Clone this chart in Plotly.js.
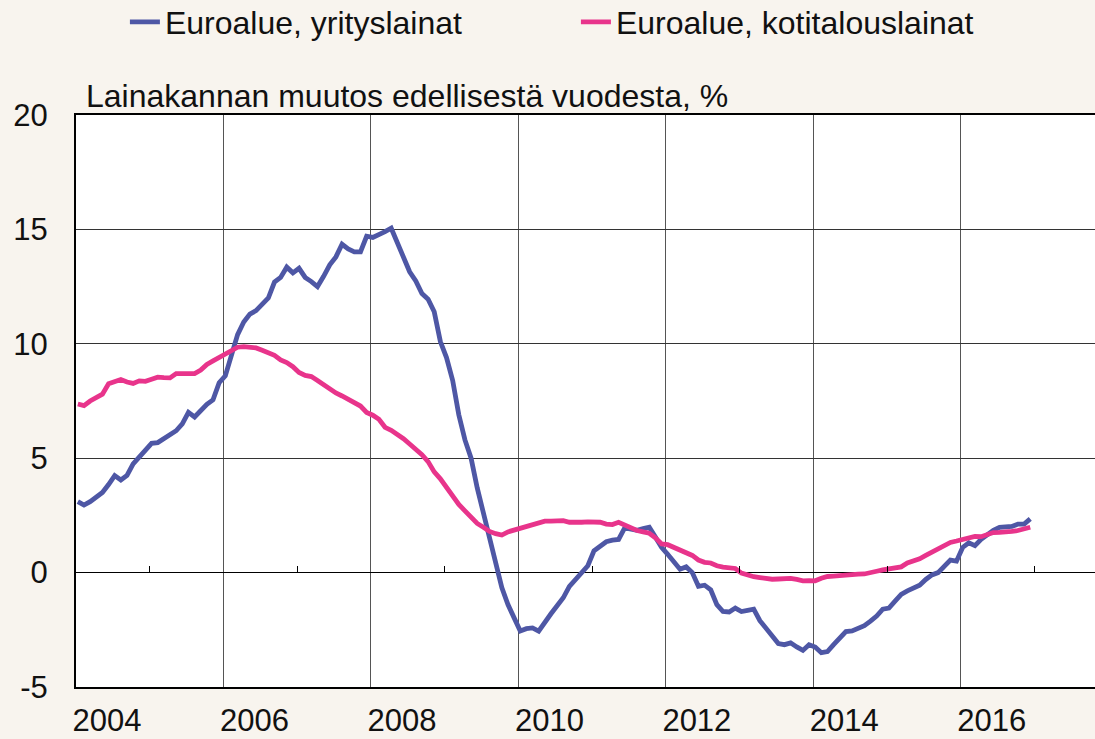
<!DOCTYPE html>
<html>
<head>
<meta charset="utf-8">
<script src="https://cdn.plot.ly/plotly-3.0.1.min.js"></script>
<style>
html,body{margin:0;padding:0;background:#f8f4ee;}
#chart{width:1095px;height:739px;}
</style>
</head>
<body>
<div id="chart"></div>
<script>
// Monthly series, starting January 2004
const startYear = 2004;
const seriesNames = ["Euroalue, yrityslainat", "Euroalue, kotitalouslainat"];
const yritysLainat = [
  3.10, 2.95, 3.10, 3.30, 3.50, 3.85, 4.24, 4.05, 4.25, 4.75, 5.05, 5.30,
  5.65, 5.68, 5.85, 6.00, 6.20, 6.50, 7.00, 6.80, 7.10, 7.35, 7.55, 8.30,
  8.60, 9.50, 10.40, 10.95, 11.30, 11.45, 11.75, 12.00, 12.70, 12.90, 13.35, 13.10,
  13.30, 12.90, 12.72, 12.50, 12.95, 13.45, 13.80, 14.35, 14.15, 14.02, 14.02, 14.70,
  14.65, 14.75, 14.90, 15.05, 14.40, 13.75, 13.15, 12.75, 12.20, 11.95, 11.40, 10.10,
  9.40, 8.40, 6.90, 5.80, 5.00, 3.70, 2.65, 1.60, 0.45, -0.65, -1.40, -2.00,
  -2.55, -2.45, -2.42, -2.56, -2.15, -1.80, -1.45, -1.10, -0.60, -0.30, 0.05, 0.30,
  0.95, 1.12, 1.35, 1.42, 1.45, 1.95, 1.88, 1.85, 1.92, 1.98, 1.55, 1.10,
  0.80, 0.45, 0.15, 0.25, 0.00, -0.60, -0.55, -0.75, -1.40, -1.70, -1.72, -1.55,
  -1.70, -1.65, -1.60, -2.10, -2.45, -2.75, -3.10, -3.15, -3.07, -3.25, -3.40, -3.15,
  -3.25, -3.50, -3.45, -3.15, -2.85, -2.58, -2.55, -2.45, -2.32, -2.12, -1.90, -1.60,
  -1.55, -1.25, -0.95, -0.80, -0.65, -0.55, -0.30, -0.10, 0.00, 0.25, 0.55, 0.50,
  1.10, 1.30, 1.18, 1.45, 1.68, 1.85, 1.98, 2.00, 2.02, 2.12, 2.12, 2.35
];
const kotitalousLainat = [
  7.37, 7.30, 7.50, 7.65, 7.80, 8.25, 8.35, 8.44, 8.33, 8.27, 8.38, 8.36,
  8.45, 8.54, 8.52, 8.51, 8.70, 8.70, 8.66, 8.70, 8.85, 9.10, 9.25, 9.40,
  9.58, 9.75, 9.85, 9.88, 9.85, 9.82, 9.72, 9.62, 9.50, 9.30, 9.18, 9.00,
  8.75, 8.62, 8.57, 8.40, 8.22, 8.00, 7.85, 7.72, 7.58, 7.45, 7.28, 7.00,
  6.88, 6.70, 6.35, 6.22, 6.05, 5.85, 5.62, 5.40, 5.15, 4.85, 4.40, 4.10,
  3.70, 3.35, 2.98, 2.70, 2.40, 2.15, 1.98, 1.80, 1.70, 1.64, 1.78, 1.86,
  1.95, 2.00, 2.10, 2.20, 2.25, 2.25, 2.26, 2.27, 2.20, 2.18, 2.20, 2.22,
  2.20, 2.20, 2.12, 2.10, 2.20, 2.08, 1.95, 1.84, 1.78, 1.72, 1.52, 1.25,
  1.22, 1.10, 1.02, 0.88, 0.75, 0.55, 0.45, 0.42, 0.30, 0.24, 0.22, 0.18,
  -0.02, -0.12, -0.18, -0.22, -0.26, -0.29, -0.28, -0.24, -0.25, -0.30, -0.36, -0.35,
  -0.36, -0.25, -0.17, -0.15, -0.12, -0.09, -0.08, -0.07, -0.06, 0.02, 0.06, 0.12,
  0.16, 0.18, 0.25, 0.42, 0.50, 0.60, 0.75, 0.90, 1.05, 1.20, 1.32, 1.38,
  1.45, 1.55, 1.58, 1.57, 1.68, 1.75, 1.76, 1.76, 1.80, 1.84, 1.90, 1.98
];
const yearTicks = [2004, 2006, 2008, 2010, 2012, 2014, 2016];
const yearLabels = ["2004", "2006", "2008", "2010", "2012", "2014", "2016"];
const oddYearTicks = [2005, 2007, 2009, 2011, 2013, 2015, 2017];
const yTicks = [-5, 0, 5, 10, 15, 20];
const yTickLabels = ["-5", "0", "5", "10", "15", "20"];
const chartTitle = "Lainakannan muutos edellisestä vuodesta, %";

const months = yritysLainat.map((_, i) => startYear + (i + 0.3) / 12);

const fontFam = "'Liberation Sans', Arial, sans-serif";

const traces = [
  {x: months, y: yritysLainat, name: seriesNames[0], type: 'scatter', mode: 'lines',
   line: {color: '#4e57a5', width: 4.8}, hoverinfo: 'skip'},
  {x: months, y: kotitalousLainat, name: seriesNames[1], type: 'scatter', mode: 'lines',
   line: {color: '#e8348b', width: 4.8}, hoverinfo: 'skip'},
  {x: [], y: [], xaxis: 'x2', showlegend: false, hoverinfo: 'skip', type: 'scatter'}
];

const xRange = [2004, 2017.82];
const layout = {
  width: 1095, height: 739,
  paper_bgcolor: '#f8f4ee', plot_bgcolor: '#ffffff',
  margin: {l: 76, r: 0, t: 115, b: 52},
  showlegend: true,
  title: {text: chartTitle, font: {family: fontFam, size: 32, color: '#111'},
          x: 86 / 1095, xanchor: 'left', xref: 'container', y: 1 - 85 / 739, yanchor: 'top', yref: 'container'},
  legend: {orientation: 'h', x: 0.048, xanchor: 'left', y: 1 - 22 / 739, yanchor: 'middle', yref: 'container',
           font: {family: fontFam, size: 32, color: '#111'}, bgcolor: 'rgba(0,0,0,0)',
           entrywidth: 406, entrywidthmode: 'pixels', itemwidth: 30, tracegroupgap: 0},
  xaxis: {range: xRange, tickmode: 'array', tickvals: yearTicks, ticktext: yearLabels,
          showgrid: true, gridcolor: '#555', gridwidth: 1, zeroline: false,
          showline: true, linecolor: '#000', linewidth: 2, mirror: true,
          ticks: '', ticklabelshift: 31, ticklabelstandoff: 5,
          tickfont: {family: fontFam, size: 31, color: '#111'}, fixedrange: true},
  xaxis2: {range: xRange, overlaying: 'x', anchor: 'free', position: 0.2, side: 'bottom',
           tickmode: 'array', tickvals: oddYearTicks, ticks: 'inside', ticklen: 7, tickwidth: 1, tickcolor: '#000',
           showticklabels: false, showgrid: false, zeroline: false, showline: false, fixedrange: true},
  yaxis: {range: [-5, 20], tickmode: 'array', tickvals: yTicks, ticktext: yTickLabels,
          showgrid: true, gridcolor: '#333', gridwidth: 1,
          zeroline: true, zerolinecolor: '#000', zerolinewidth: 1.5,
          showline: true, linecolor: '#000', linewidth: 2, mirror: true,
          ticks: '', ticklabelstandoff: 20,
          tickfont: {family: fontFam, size: 31, color: '#111'}, fixedrange: true}
};

Plotly.newPlot('chart', traces, layout, {displayModeBar: false, staticPlot: true});
</script>
</body>
</html>
